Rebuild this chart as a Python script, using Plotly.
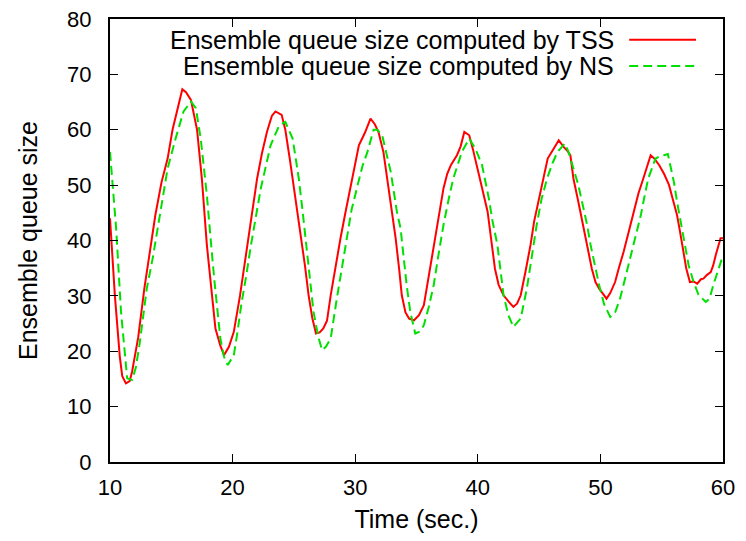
import plotly.graph_objects as go

# Ensemble queue size computed by TSS
tss_time = [10.0, 10.4, 10.8, 11.0, 11.3, 11.6, 11.8, 12.3, 12.8, 13.2, 13.7, 14.2, 14.7,
            15.1, 15.5, 15.9, 16.2, 16.6, 17.1, 17.5, 17.9, 18.3, 18.6, 19.0, 19.3, 19.7,
            20.1, 20.6, 21.2, 21.6, 22.0, 22.4, 22.8, 23.2, 23.5, 24.0, 24.3, 24.7, 25.1,
            25.5, 25.9, 26.2, 26.5, 26.8, 27.1, 27.4, 27.7, 28.0, 28.4, 28.8, 29.2, 29.6,
            30.0, 30.3, 30.8, 31.25, 31.6, 31.9, 32.3, 32.6, 33.0, 33.3, 33.6, 33.8, 34.1,
            34.4, 34.8, 35.2, 35.6, 36.0, 36.4, 36.8, 37.2, 37.5, 37.8, 38.3, 38.6, 38.9,
            39.3, 39.6, 40.0, 40.4, 40.8, 41.1, 41.4, 41.7, 42.1, 42.5, 42.9, 43.2, 43.5,
            43.9, 44.3, 44.6, 45.0, 45.4, 45.7, 46.2, 46.6, 47.0, 47.3, 47.55, 47.8, 48.2,
            48.6, 49.0, 49.3, 49.6, 49.9, 50.2, 50.5, 50.8, 51.2, 51.5, 51.9, 52.3, 52.7,
            53.1, 53.5, 53.8, 54.1, 54.4, 54.8, 55.2, 55.6, 55.9, 56.25, 56.5, 56.8, 57.0,
            57.3, 57.6, 57.9, 58.2, 58.4, 58.7, 59.0, 59.2, 59.4, 59.6, 59.8, 60.0]
tss_queue = [44.0, 30.0, 19.0, 15.5, 14.2, 14.6, 16.3, 22.5, 31.3, 37.5, 44.6, 50.5, 54.8,
             60.0, 63.5, 67.3, 66.8, 65.4, 60.0, 51.0, 39.2, 30.5, 24.1, 21.0, 19.3, 20.8,
             23.5, 30.0, 39.2, 45.5, 51.2, 55.8, 59.6, 62.5, 63.3, 62.7, 60.0, 54.2, 48.0,
             42.2, 35.5, 30.1, 26.0, 23.2, 23.4, 24.1, 25.5, 30.1, 35.5, 40.4, 45.0, 49.4,
             54.0, 57.2, 59.5, 62.0, 61.0, 59.6, 56.0, 51.2, 45.0, 40.4, 34.5, 30.1, 27.0,
             25.9, 25.6, 26.5, 28.3, 33.5, 39.2, 44.0, 49.4, 52.0, 53.6, 55.4, 57.0, 59.6,
             59.0, 56.5, 53.0, 49.0, 45.2, 40.0, 34.9, 32.0, 30.1, 29.0, 28.0, 28.6, 30.1,
             34.5, 39.2, 43.5, 47.6, 51.5, 54.8, 56.6, 58.1, 56.9, 56.2, 55.4, 51.2, 47.0,
             42.8, 38.5, 34.9, 32.5, 31.3, 30.4, 29.5, 30.5, 32.5, 35.0, 38.0, 41.5, 45.2,
             48.5, 51.2, 53.5, 55.4, 54.8, 53.6, 52.0, 50.0, 47.5, 44.6, 41.5, 38.0, 35.0,
             32.5, 32.6, 32.2, 33.0, 33.1, 33.8, 34.3, 35.5, 37.3, 39.0, 40.4, 40.4]

# Ensemble queue size computed by NS
ns_time = [10.0, 10.5, 10.9, 11.2, 11.4, 11.8, 12.1, 12.4, 13.0, 13.5, 13.9, 14.3, 14.7,
           15.35, 15.7, 16.0, 16.6, 17.0, 17.4, 17.9, 18.2, 18.5, 19.0, 19.3, 19.6, 20.1,
           20.4, 20.7, 21.1, 21.5, 22.3, 22.7, 23.1, 23.8, 24.3, 24.9, 25.4, 25.7, 26.0,
           26.6, 27.0, 27.3, 27.6, 28.0, 28.5, 28.9, 29.3, 29.7, 30.2, 30.6, 31.0, 31.5,
           31.8, 32.2, 32.9, 33.4, 33.7, 34.2, 34.5, 34.9, 35.3, 35.6, 36.0, 36.4, 36.8,
           37.2, 37.6, 38.0, 38.7, 39.3, 39.8, 40.35, 40.9, 41.2, 41.6, 42.1, 42.5, 42.9,
           43.5, 44.0, 44.4, 44.8, 45.2, 45.65, 46.1, 46.5, 47.1, 47.4, 47.8, 48.2, 48.5,
           48.9, 49.2, 49.6, 49.9, 50.3, 50.8, 51.2, 51.6, 52.0, 52.4, 52.8, 53.3, 53.6,
           53.9, 54.5, 54.9, 55.2, 55.5, 55.7, 56.0, 56.25, 56.6, 56.9, 57.2, 57.6, 58.0,
           58.6, 58.9, 59.2, 59.6, 60.0]
ns_queue = [56.0, 42.2, 27.1, 19.5, 15.1, 14.8, 17.0, 21.1, 31.3, 37.0, 42.2, 48.0, 53.0,
            58.4, 61.0, 63.3, 65.1, 63.9, 58.4, 48.2, 40.5, 33.1, 22.3, 19.0, 17.5, 19.3,
            23.5, 28.3, 33.5, 39.2, 49.4, 53.5, 57.2, 60.8, 61.4, 58.4, 51.2, 45.5, 39.2,
            27.1, 22.5, 20.2, 20.8, 22.3, 29.5, 35.0, 40.4, 45.5, 50.0, 53.5, 56.0, 60.0,
            60.0, 59.0, 52.4, 45.2, 42.2, 31.9, 27.0, 23.2, 23.6, 24.7, 28.0, 31.9, 37.5,
            42.8, 47.2, 51.2, 56.0, 58.4, 56.6, 53.6, 47.6, 43.5, 39.2, 30.1, 26.5, 24.4,
            25.9, 31.3, 37.0, 42.8, 47.5, 51.2, 54.0, 56.0, 57.5, 56.0, 53.0, 50.0, 47.0,
            43.0, 39.2, 35.0, 31.9, 28.5, 26.2, 27.0, 29.5, 33.0, 36.7, 40.5, 44.6, 48.0,
            51.2, 54.8, 55.3, 55.4, 55.6, 53.6, 50.5, 47.0, 43.0, 39.2, 35.5, 32.5, 30.2,
            28.9, 29.5, 31.9, 34.5, 37.3]

legend_labels = ["Ensemble queue size computed by TSS",
                 "Ensemble queue size computed by NS"]
colors = ["#ff0000", "#00e000"]
dashes = ["solid", "9px,5px"]

font = dict(family="Liberation Sans, Arial, sans-serif", size=25, color="black")
tick_font = dict(family="Liberation Sans, Arial, sans-serif", size=22, color="black")

fig = go.Figure()
fig.add_trace(go.Scatter(x=tss_time, y=tss_queue, mode="lines", name=legend_labels[0],
                         line=dict(color=colors[0], width=2)))
fig.add_trace(go.Scatter(x=ns_time, y=ns_queue, mode="lines", name=legend_labels[1],
                         line=dict(color=colors[1], width=2, dash=dashes[1])))

# gnuplot-style key: text right-aligned, line sample to its right
for i in range(2):
    yy = 0.953 - i * 0.059
    fig.add_annotation(xref="paper", yref="paper", x=0.825, y=yy, text=legend_labels[i],
                       showarrow=False, xanchor="right", yanchor="middle", font=font)
    fig.add_shape(type="line", xref="paper", yref="paper", x0=0.847, x1=0.956,
                  y0=yy, y1=yy, line=dict(color=colors[i], width=2, dash=dashes[i]))

axis_common = dict(showline=True, linecolor="black", linewidth=2, mirror="ticks",
                   ticks="inside", ticklen=8, tickwidth=1, tickcolor="black",
                   showgrid=False, zeroline=False, tickfont=tick_font,
                   ticklabeloverflow="allow", automargin=False)

# page body has an 8px margin, so the figure is slightly smaller than the window
fig.update_layout(
    width=730, height=525,
    margin=dict(l=102, r=15, t=11, b=71),
    paper_bgcolor="white", plot_bgcolor="white",
    showlegend=False,
    font=font,
    xaxis=dict(range=[10, 60], dtick=10, ticklabelstandoff=5,
               title=dict(text="Time (sec.)", font=font, standoff=12), **axis_common),
    yaxis=dict(range=[0, 80], dtick=10, ticksuffix="  ",
               title=dict(text="Ensemble queue size", font=font, standoff=22), **axis_common),
)

fig.write_html("out.html")
